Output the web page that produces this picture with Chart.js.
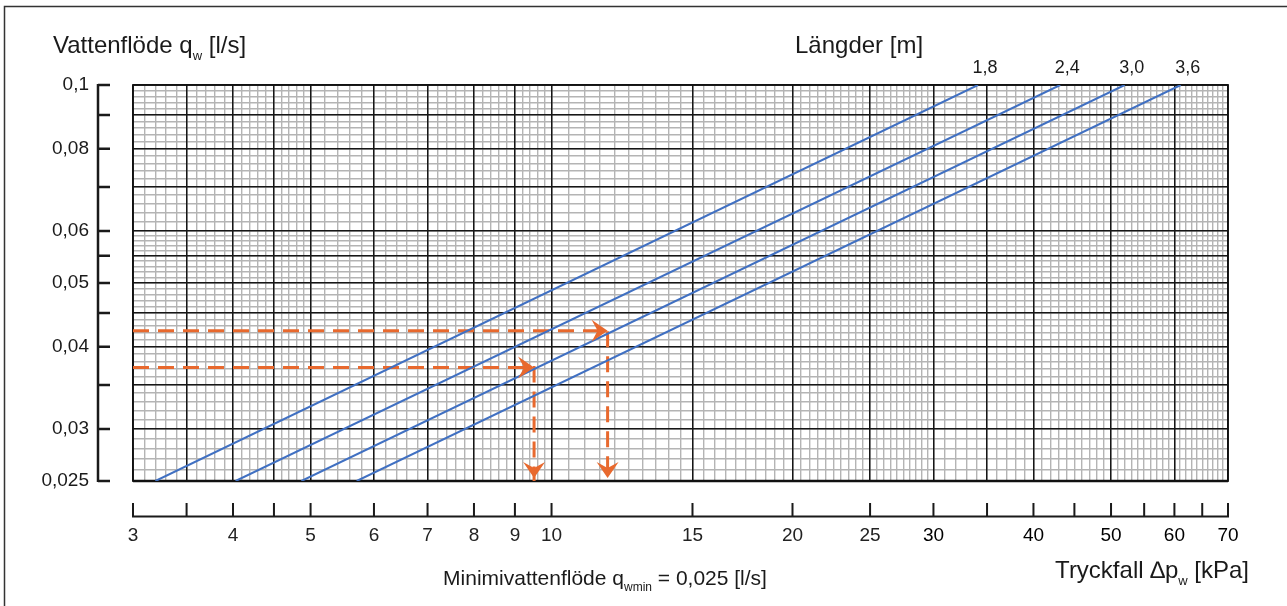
<!DOCTYPE html>
<html>
<head>
<meta charset="utf-8">
<script src="https://cdn.jsdelivr.net/npm/chart.js@4.4.1/dist/chart.umd.min.js"></script>
<style>
  html, body { margin: 0; padding: 0; background: #fff; }
  canvas { display: block; }
</style>
</head>
<body>
<canvas id="chart" width="1287" height="606"></canvas>
<script>
// längder och kurvornas ändpunkter (tryckfall i kPa vid qw = 0,025 och 0,1 l/s)
const LENGTHS   = ['1,8', '2,4', '3,0', '3,6'];
const DP_AT_MIN = [3.2, 4.03, 4.87, 5.71];
const DP_AT_MAX = [34.1, 43.2, 52.0, 61.1];
const Q_RANGE   = [0.025, 0.1];

// avläsningsexempel (orange streckade linjer)
const Q_READ  = [0.0423, 0.0372];
const DP_READ = [11.75, 9.51];

// axlar
const X_MIN = 3, X_MAX = 70;
const X_TICK_MARKS  = [3, 3.5, 4, 4.5, 5, 6, 7, 8, 9, 10, 15, 20, 25, 30, 35, 40, 45, 50, 55, 60, 65, 70];
const X_TICK_LABELS = [3, 4, 5, 6, 7, 8, 9, 10, 15, 20, 25, 30, 40, 50, 60, 70];
const Y_TICK_MARKS  = [0.1, 0.09, 0.08, 0.07, 0.06, 0.055, 0.05, 0.045, 0.04, 0.035, 0.03, 0.025];
const Y_TICK_LABELS = [0.1, 0.08, 0.06, 0.05, 0.04, 0.03, 0.025];

// rutnät
const X_MAJOR = [3, 3.5, 4, 4.5, 5, 6, 7, 8, 9, 10, 15, 20, 25, 30, 35, 40, 50, 60, 70];
const Y_MAJOR = [0.025, 0.03, 0.035, 0.04, 0.045, 0.05, 0.055, 0.06, 0.07, 0.08, 0.09, 0.1];

const steps = (a, b, s) => {
  const out = [];
  for (let i = 0; a + i * s < b - 1e-9; i++) out.push(+(a + i * s).toFixed(4));
  return out;
};
const X_MINOR = [...steps(3, 5, 0.1), ...steps(5, 10, 0.2), ...steps(10, 30, 0.5), ...steps(30, 70, 1), 70];
const Y_MINOR = [...steps(0.025, 0.06, 0.001), ...steps(0.06, 0.1, 0.002), 0.1];

const BLUE   = '#4070c2';
const ORANGE = '#e8692e';
const INK    = '#1a1a1a';
const FONT   = "'Liberation Sans', Arial, Helvetica, sans-serif";

const fmt = v => String(v).replace('.', ',');

const logAxis = (min, max, values, color, width, z, horizontal) => ({
  type: 'logarithmic',
  min, max, z,
  position: horizontal ? 'bottom' : 'left',
  afterBuildTicks: s => { s.ticks = values.map(v => ({ value: v })); },
  afterFit: s => { if (horizontal) s.height = 0; else s.width = 0; },
  ticks: { display: false },
  border: { display: false },
  grid: { color, lineWidth: width, drawTicks: false }
});

// text med nedsänkt index
function rich(ctx, parts, x, y, size, align) {
  const sub = Math.round(size * 0.55);
  const w = parts.reduce((s, p) => {
    ctx.font = (p.sub ? sub : size) + 'px ' + FONT;
    return s + ctx.measureText(p.t).width;
  }, 0);
  let cx = align === 'right' ? x - w : align === 'center' ? x - w / 2 : x;
  ctx.textAlign = 'left';
  ctx.textBaseline = 'alphabetic';
  parts.forEach(p => {
    ctx.font = (p.sub ? sub : size) + 'px ' + FONT;
    ctx.fillText(p.t, cx, p.sub ? y + size * 0.28 : y);
    cx += ctx.measureText(p.t).width;
  });
}

function arrow(ctx, x, y, dir) {
  ctx.save();
  ctx.translate(x, y);
  ctx.rotate(dir === 'down' ? Math.PI / 2 : 0);
  ctx.beginPath();
  ctx.moveTo(0, 0);
  ctx.lineTo(-16, -11);
  ctx.lineTo(-10, 0);
  ctx.lineTo(-16, 11);
  ctx.closePath();
  ctx.fillStyle = ORANGE;
  ctx.fill();
  ctx.restore();
}

const deco = {
  id: 'deco',
  beforeDatasetsDraw(chart) {
    const { ctx, chartArea: a } = chart;
    ctx.save();
    ctx.strokeStyle = '#111';
    ctx.lineWidth = 1.8;
    ctx.strokeRect(a.left, a.top, a.right - a.left, a.bottom - a.top);
    ctx.lineWidth = 2.6;
    ctx.beginPath(); ctx.moveTo(a.left, a.bottom); ctx.lineTo(a.right, a.bottom); ctx.stroke();
    ctx.restore();
  },
  afterDatasetsDraw(chart) {
    const { ctx, scales: { x, y } } = chart;
    ctx.save();

    // pilar på avläsningslinjerna
    chart.data.datasets.forEach((ds, i) => {
      if (!ds.arrows) return;
      const pts = chart.getDatasetMeta(i).data;
      arrow(ctx, pts[1].x, pts[1].y, 'right');
      arrow(ctx, pts[2].x, pts[2].y - 3, 'down');
    });

    // ram
    ctx.strokeStyle = '#333';
    ctx.lineWidth = 1.5;
    ctx.beginPath(); ctx.moveTo(4.5, 606); ctx.lineTo(4.5, 6.5); ctx.lineTo(1287, 6.5); ctx.stroke();

    ctx.strokeStyle = INK;
    ctx.fillStyle = INK;

    // y-axel (klammer)
    const bx = 98;
    ctx.lineWidth = 2.5;
    ctx.beginPath();
    ctx.moveTo(bx, y.getPixelForValue(Q_RANGE[1]) - 1);
    ctx.lineTo(bx, y.getPixelForValue(Q_RANGE[0]) + 1);
    Y_TICK_MARKS.forEach(v => {
      const py = y.getPixelForValue(v);
      ctx.moveTo(bx, py); ctx.lineTo(110, py);
    });
    ctx.stroke();
    ctx.font = '19px ' + FONT;
    ctx.textAlign = 'right';
    ctx.textBaseline = 'middle';
    Y_TICK_LABELS.forEach(v => ctx.fillText(fmt(v), 89, y.getPixelForValue(v)));

    // x-axel (klammer)
    const by = 516.5;
    ctx.lineWidth = 2;
    ctx.beginPath();
    ctx.moveTo(x.getPixelForValue(X_MIN) - 1, by);
    ctx.lineTo(x.getPixelForValue(X_MAX) + 1, by);
    X_TICK_MARKS.forEach(v => {
      const px = x.getPixelForValue(v);
      ctx.moveTo(px, by); ctx.lineTo(px, 503);
    });
    ctx.stroke();
    ctx.textAlign = 'center';
    ctx.textBaseline = 'alphabetic';
    X_TICK_LABELS.forEach(v => {
      ctx.fillStyle = v >= 30 ? '#000' : '#222';
      ctx.fillText(fmt(v), x.getPixelForValue(v), 541);
    });
    ctx.fillStyle = INK;

    // längdetiketter ovanför kurvorna
    ctx.font = '18px ' + FONT;
    DP_AT_MAX.forEach((v, i) => ctx.fillText(LENGTHS[i], x.getPixelForValue(v) + 7, 73));

    // rubriker
    rich(ctx, [{ t: 'Vattenflöde q' }, { t: 'w', sub: true }, { t: ' [l/s]' }], 53, 53, 24, 'left');
    rich(ctx, [{ t: 'Längder [m]' }], 795, 53, 24, 'left');
    rich(ctx, [{ t: 'Tryckfall \u2206p' }, { t: 'w', sub: true }, { t: ' [kPa]' }], 1249, 578, 24, 'right');
    rich(ctx, [{ t: 'Minimivattenflöde q' }, { t: 'wmin', sub: true }, { t: ' = 0,025 [l/s]' }], 605, 585, 21, 'center');

    ctx.restore();
  }
};

const datasets = [
  ...LENGTHS.map((l, i) => ({
    label: l,
    data: [{ x: DP_AT_MIN[i], y: Q_RANGE[0] }, { x: DP_AT_MAX[i], y: Q_RANGE[1] }],
    borderColor: BLUE,
    borderWidth: 2,
    pointRadius: 0
  })),
  ...Q_READ.map((q, i) => ({
    label: 'avläsning ' + (i + 1),
    arrows: true,
    data: [{ x: X_MIN, y: q }, { x: DP_READ[i], y: q }, { x: DP_READ[i], y: Q_RANGE[0] }],
    borderColor: ORANGE,
    borderWidth: 3,
    borderDash: [16, 9],
    pointRadius: 0
  }))
];

new Chart(document.getElementById('chart'), {
  type: 'scatter',
  data: { datasets },
  options: {
    responsive: false,
    animation: false,
    devicePixelRatio: 1,
    showLine: true,
    layout: { padding: { left: 133, top: 85, right: 59, bottom: 125 } },
    plugins: { legend: { display: false }, tooltip: { enabled: false } },
    scales: {
      xm: logAxis(X_MIN, X_MAX, X_MINOR, '#b4b4b4', 1.4, -1, true),
      ym: logAxis(Q_RANGE[0], Q_RANGE[1], Y_MINOR, '#b4b4b4', 1.4, -1, false),
      x:  logAxis(X_MIN, X_MAX, X_MAJOR, '#161616', 1.5, 0, true),
      y:  logAxis(Q_RANGE[0], Q_RANGE[1], Y_MAJOR, '#161616', 1.5, 0, false)
    }
  },
  plugins: [deco]
});
</script>
</body>
</html>
